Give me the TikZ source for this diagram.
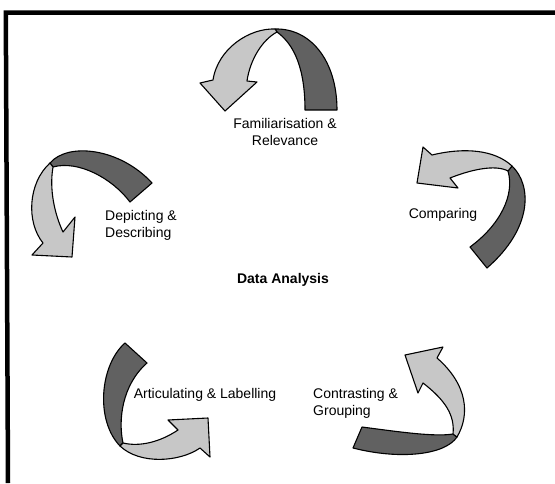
\documentclass[tikz,border=0pt]{standalone}
\usepackage{fontspec}
\setmainfont{Liberation Sans}
\begin{document}
\begin{tikzpicture}[x=1pt,y=-1pt,
  lightband/.style={fill=black!22,draw=black,line width=1.1pt,line join=round},
  darkband/.style={fill=black!62,draw=black,line width=1.1pt,line join=round},
  label/.style={inner sep=0pt,font=\fontsize{14}{17}\selectfont},
  frameline/.style={line width=4.5pt}]
\useasboundingbox (0,0) rectangle (555,483);
\fill[white] (0,0) rectangle (555,483);

% frame: top rule and left rule
\draw[frameline] (555,12.5) -- (5.8,12.5) -- (8,483);

% top arrow (Familiarisation & Relevance)
\draw[darkband] (275,29) .. controls (310,28) and (337,60) .. (337,110)
  -- (305,110) .. controls (305,70) and (295,45) .. (277,32) -- cycle;
\draw[lightband] (275,29) .. controls (250,28) and (218,48) .. (213,80)
  -- (200,83) -- (225,111) -- (257,82) -- (247,81)
  .. controls (250,60) and (262,40) .. (277,32) -- cycle;

% left arrow (Depicting & Describing)
\draw[darkband] (50,163) .. controls (68,142) and (120,148) .. (152,183)
  -- (130,202) .. controls (112,178) and (78,160) .. (53,167) -- cycle;
\draw[lightband] (50,163) .. controls (28,183) and (26,222) .. (43,243)
  -- (32,255) -- (72,257) -- (75,217) -- (63,232)
  .. controls (55,215) and (49,190) .. (53,167) -- cycle;

% right arrow (Comparing)
\draw[darkband] (512,166) .. controls (532,185) and (533,228) .. (487,268)
  -- (470,247) .. controls (500,225) and (515,195) .. (508,171) -- cycle;
\draw[lightband] (512,166) .. controls (495,150) and (465,147) .. (432,155)
  -- (423,147) -- (417,183) -- (458,188) -- (450,178)
  .. controls (470,170) and (495,164) .. (508,171) -- cycle;

% bottom right arrow (Contrasting & Grouping)
\draw[darkband] (457,437) .. controls (445,455) and (400,460) .. (353,448)
  -- (362,427) .. controls (400,432) and (435,437) .. (453,434) -- cycle;
\draw[lightband] (457,437) .. controls (470,415) and (468,385) .. (437,358)
  -- (443,347) -- (405,355) -- (418,393) -- (423,383)
  .. controls (445,400) and (455,415) .. (453,434) -- cycle;

% bottom left arrow (Articulating & Labelling)
\draw[darkband] (125,343) .. controls (100,365) and (95,420) .. (120,446)
  -- (123,443) .. controls (118,420) and (122,385) .. (147,363) -- cycle;
\draw[lightband] (120,446) .. controls (140,465) and (180,462) .. (200,448)
  -- (210,457) -- (208,418) -- (168,420) -- (178,430)
  .. controls (160,442) and (140,447) .. (123,443) -- cycle;

% labels
\node[label,align=center] (fam) at (285,132) {Familiarisation \&\\Relevance};
\node[label,align=left,anchor=west] (dep) at (105,225) {Depicting \&\\Describing};
\node[label] (cmp) at (443,215) {Comparing};
\node[label,font=\fontsize{14}{17}\selectfont\bfseries] (data) at (283,280) {Data Analysis};
\node[label] (art) at (205,395) {Articulating \& Labelling};
\node[label,align=left,anchor=west] (con) at (313,403) {Contrasting \&\\Grouping};
\end{tikzpicture}
\end{document}
